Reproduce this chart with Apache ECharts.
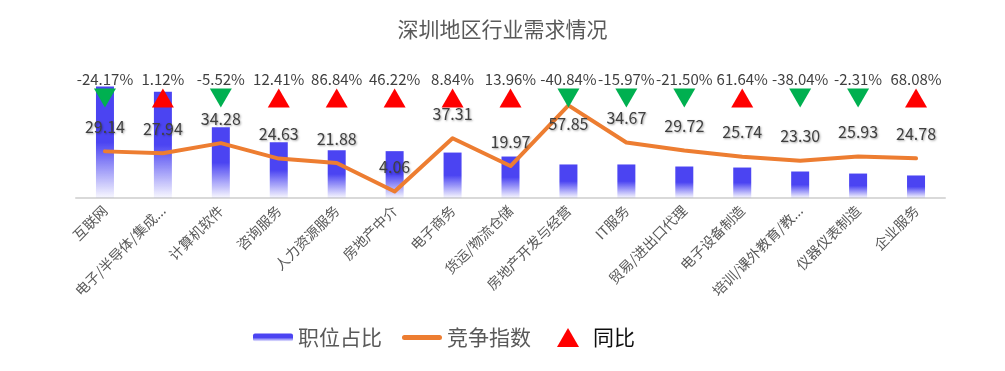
<!DOCTYPE html>
<html>
<head>
<meta charset="utf-8">
<script src="https://cdn.jsdelivr.net/npm/echarts@6/dist/echarts.min.js"></script>
<style>
html,body{margin:0;padding:0;background:#fff;}
#chart{width:1005px;height:371px;}
</style>
</head>
<body>
<div id="chart"></div>
<script>
// ---- data ----
const categories = ['互联网','电子/半导体/集成电路','计算机软件','咨询服务','人力资源服务','房地产中介','电子商务','货运/物流仓储','房地产开发与经营','IT服务','贸易/进出口代理','电子设备制造','培训/课外教育/教育辅导','仪器仪表制造','企业服务'];
const jobShare = [8.71, 8.30, 5.53, 4.36, 3.73, 3.66, 3.55, 3.24, 2.62, 2.62, 2.46, 2.38, 2.07, 1.91, 1.76];
const competition = [29.14, 27.94, 34.28, 24.63, 21.88, 4.06, 37.31, 19.97, 57.85, 34.67, 29.72, 25.74, 23.30, 25.93, 24.78];
const yoy = [-24.17, 1.12, -5.52, 12.41, 86.84, 46.22, 8.84, 13.96, -40.84, -15.97, -21.50, 61.64, -38.04, -2.31, 68.08];
const seriesNames = ['职位占比', '竞争指数', '同比'];

// ---- styling ----
const FONT = "'Noto Sans CJK SC', 'Noto Sans', sans-serif";
const MARKER_LEVEL = 62.5; // row (on the index axis) where the YoY triangles sit
const barGradient = new echarts.graphic.LinearGradient(0, 0, 0, 1, [
  {offset: 0, color: '#4B44F2'},
  {offset: 0.5, color: '#4B44F2'},
  {offset: 1, color: 'rgba(75,68,242,0.04)'}
]);
const LINE_ICON = 'path://M2.5,0 H37.5 A2.5,2.5 0 0 1 37.5,5 H2.5 A2.5,2.5 0 0 1 2.5,0 Z';
const maxComp = Math.max(...competition);

const chart = echarts.init(document.getElementById('chart'));
chart.setOption({
  animation: false,
  textStyle: {fontFamily: FONT},
  title: {
    text: '深圳地区行业需求情况',
    left: 'center',
    top: 19,
    padding: 0,
    textStyle: {fontSize: 21, fontWeight: 'normal', color: '#595959', fontFamily: FONT}
  },
  legend: [
    {
      data: [
        {name: seriesNames[0]},
        {name: seriesNames[1], icon: LINE_ICON, itemStyle: {color: '#ED7D31'}}
      ],
      left: 253,
      top: 327,
      padding: 0,
      itemWidth: 40,
      itemHeight: 8,
      itemGap: 20,
      textStyle: {fontSize: 21, color: '#595959', fontFamily: FONT}
    },
    {
      data: [seriesNames[2]],
      left: 557,
      top: 327,
      padding: 0,
      itemWidth: 22,
      itemHeight: 19,
      textStyle: {fontSize: 21, color: '#0d0d0d', fontFamily: FONT, padding: [0, 0, 0, 9]}
    }
  ],
  grid: {left: 76, right: 60, top: 70, bottom: 173, containLabel: false},
  xAxis: {
    type: 'category',
    data: categories,
    axisLine: {show: true, lineStyle: {color: '#d9d9d9', width: 2}},
    axisTick: {show: false},
    axisLabel: {
      interval: 0,
      rotate: 45,
      margin: 10,
      fontSize: 14,
      color: '#595959',
      fontFamily: FONT,
      formatter: v => v.length > 9 ? v.slice(0, 9) + '...' : v
    }
  },
  yAxis: [
    {type: 'value', min: 0, max: 10, show: false, splitLine: {show: false}},
    {type: 'value', min: 0, max: 80, show: false, splitLine: {show: false}}
  ],
  series: [
    {
      name: seriesNames[0],
      type: 'bar',
      yAxisIndex: 0,
      data: jobShare,
      barWidth: 18,
      itemStyle: {color: barGradient},
      z: 1
    },
    {
      name: seriesNames[1],
      type: 'line',
      yAxisIndex: 1,
      data: competition.map(v => v === maxComp
        ? {value: v, label: {position: 'bottom', distance: 10}}
        : v),
      symbol: 'circle',
      symbolSize: 1,
      showSymbol: true,
      lineStyle: {color: '#ED7D31', width: 4, cap: 'round', join: 'round'},
      itemStyle: {color: '#ED7D31'},
      label: {
        show: true,
        position: 'top',
        distance: 16,
        fontSize: 16,
        color: '#404040',
        fontFamily: FONT,
        textShadowColor: 'rgba(0,0,0,0.35)',
        textShadowBlur: 2,
        textShadowOffsetX: 1,
        textShadowOffsetY: 1,
        formatter: p => Number(p.value).toFixed(2)
      },
      z: 3
    },
    {
      name: seriesNames[2],
      type: 'scatter',
      yAxisIndex: 1,
      symbol: 'triangle',
      symbolSize: [22, 19],
      itemStyle: {color: '#FF0000', opacity: 1},
      data: yoy.map((v, i) => ({
        value: [i, MARKER_LEVEL],
        yoy: v,
        symbolRotate: v < 0 ? 180 : 0,
        itemStyle: {color: v < 0 ? '#00B050' : '#FF0000', opacity: 1}
      })),
      label: {
        show: true,
        position: 'top',
        distance: 2,
        fontSize: 15,
        color: '#404040',
        fontFamily: FONT,
        formatter: p => p.data.yoy.toFixed(2) + '%'
      },
      z: 4
    }
  ]
});
</script>
</body>
</html>
